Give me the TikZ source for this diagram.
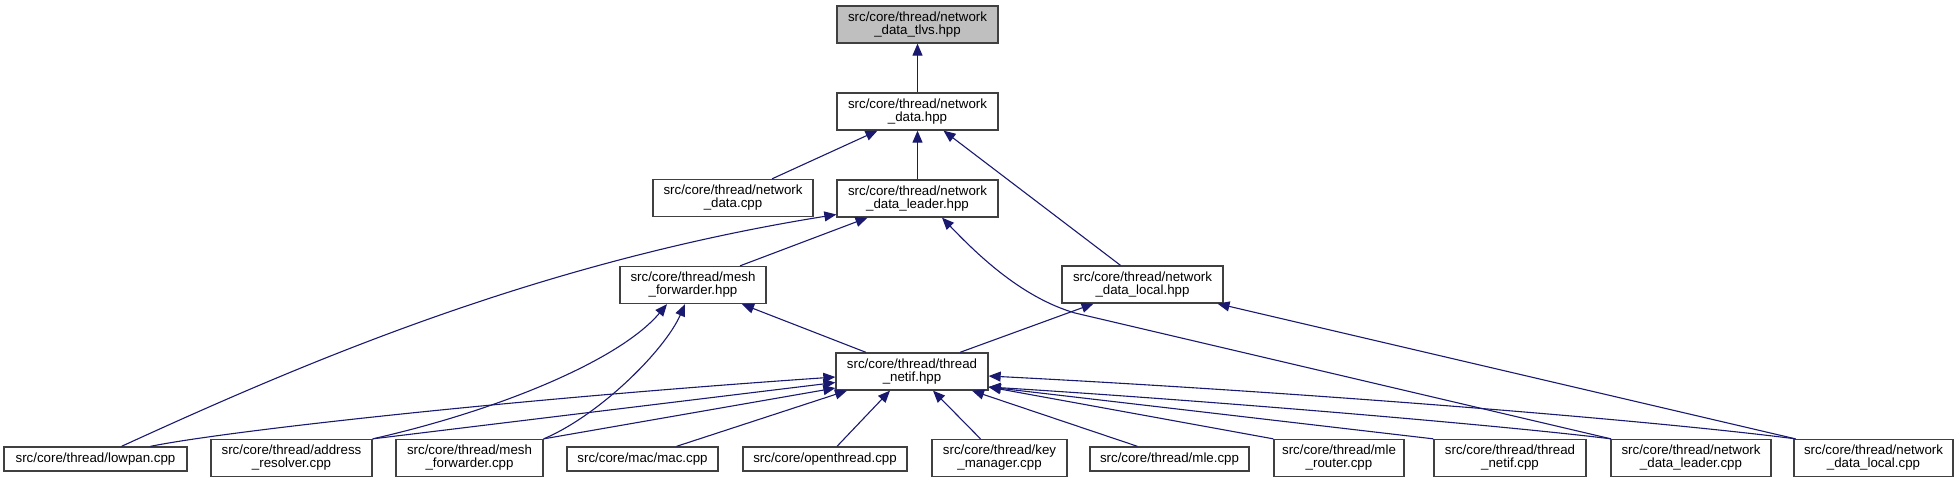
\documentclass[tikz,border=0pt]{standalone}
\usepackage{fontspec}
\setmainfont{Liberation Sans}
\usepackage{xcolor}
\usepackage{tikz}
\usetikzlibrary{arrows.meta, positioning}
\definecolor{edge_col}{RGB}{25, 25, 112}
\definecolor{box_col}{RGB}{64, 64, 64}
\definecolor{cur_col}{RGB}{191, 191, 191}
\newcommand{\nodefont}{\fontsize{13.3pt}{13pt}\selectfont}

\begin{document}
\begin{tikzpicture}[
    x=1pt, y=-1pt,
    every node/.style={font=\nodefont},
    hdr/.style={rectangle, draw=box_col, line width=1.3pt, fill=white, minimum height=37pt, inner sep=0pt, align=center},
    one/.style={hdr, minimum height=24pt},
    cur/.style={hdr, fill=cur_col},
    dep/.style={draw=edge_col, line width=1.1pt, -{Triangle[length=12pt, width=10pt]}},
]
  \useasboundingbox (0,0) rectangle (1960,483);

  \node[cur, minimum width=161pt] (tlvs)  at (917.5,24.5)  {src/core/thread/network\\\_data\_tlvs.hpp};
  \node[hdr, minimum width=161pt] (nd)    at (917.5,111.5) {src/core/thread/network\\\_data.hpp};
  \node[hdr, minimum width=160pt] (ndcpp) at (733,198)     {src/core/thread/network\\\_data.cpp};
  \node[hdr, minimum width=161pt] (ndl)   at (917.5,198.5) {src/core/thread/network\\\_data\_leader.hpp};
  \node[hdr, minimum width=146pt] (mfw)   at (693,285)     {src/core/thread/mesh\\\_forwarder.hpp};
  \node[hdr, minimum width=161pt] (ndloc) at (1142.5,284.5) {src/core/thread/network\\\_data\_local.hpp};
  \node[hdr, minimum width=152pt] (netif) at (912,371.5)   {src/core/thread/thread\\\_netif.hpp};

  \node[one, minimum width=183pt] (lowpan)   at (95.5,459)   {src/core/thread/lowpan.cpp};
  \node[hdr, minimum width=161pt] (addr)     at (291.5,458)  {src/core/thread/address\\\_resolver.cpp};
  \node[hdr, minimum width=147pt] (mfwcpp)   at (469.5,458)  {src/core/thread/mesh\\\_forwarder.cpp};
  \node[one, minimum width=151pt] (mac)      at (642.5,459)  {src/core/mac/mac.cpp};
  \node[one, minimum width=164pt] (ot)       at (825,459)    {src/core/openthread.cpp};
  \node[hdr, minimum width=135pt] (key)      at (999.5,458)  {src/core/thread/key\\\_manager.cpp};
  \node[one, minimum width=159pt] (mle)      at (1169.5,459) {src/core/thread/mle.cpp};
  \node[hdr, minimum width=130pt] (mler)     at (1339,458)   {src/core/thread/mle\\\_router.cpp};
  \node[hdr, minimum width=152pt] (netifcpp) at (1510,458)   {src/core/thread/thread\\\_netif.cpp};
  \node[hdr, minimum width=160pt] (ndlcpp)   at (1691,458)   {src/core/thread/network\\\_data\_leader.cpp};
  \node[hdr, minimum width=159pt] (ndloccpp) at (1873.5,458) {src/core/thread/network\\\_data\_local.cpp};

  \draw[dep] (nd) -- (tlvs);
  \draw[dep] ([xshift=39pt]ndcpp.north) -- ([xshift=-40pt]nd.south);
  \draw[dep] (ndl) -- (nd);
  \draw[dep] ([xshift=-22pt]ndloc.north) -- ([xshift=26pt]nd.south);

  \draw[dep] ([xshift=26pt]lowpan.north) .. controls (310,360) and (540,262) .. ([yshift=-16pt]ndl.west);
  \draw[dep] ([xshift=47pt]mfw.north) -- ([xshift=-50pt]ndl.south);
  \draw[dep] ([xshift=-80pt]ndlcpp.north) -- (1075,313) .. controls (1020,297) and (975,252) .. ([xshift=24.5pt]ndl.south);
  \draw[dep] ([xshift=-78pt]ndloccpp.north) -- ([xshift=75pt]ndloc.south);

  \draw[dep] (addr.north east) .. controls (500,410) and (620,360) .. ([xshift=-26pt]mfw.south);
  \draw[dep] (mfwcpp.north east) .. controls (600,415) and (665,350) .. ([xshift=-8pt]mfw.south);
  \draw[dep] ([xshift=-46pt]netif.north) -- ([xshift=49pt]mfw.south);
  \draw[dep] ([xshift=48pt]netif.north) -- ([xshift=-49pt]ndloc.south);

  \draw[dep] ([xshift=55pt]lowpan.north) .. controls (220,432) and (500,400) .. ([yshift=-5.5pt]netif.west);
  \draw[dep] (addr.north east) -- ([yshift=-11pt]netif.west);
  \draw[dep] (mfwcpp.north east) -- ([yshift=-16.5pt]netif.west);
  \draw[dep] ([xshift=34pt]mac.north) -- ([xshift=-65pt]netif.south);
  \draw[dep] ([xshift=12pt]ot.north) -- ([xshift=-22pt]netif.south);
  \draw[dep] ([xshift=-19pt]key.north) -- ([xshift=21pt]netif.south);
  \draw[dep] ([xshift=-32pt]mle.north) -- ([xshift=60pt]netif.south);
  \draw[dep] (mler.north west) -- ([yshift=-15.5pt]netif.east);
  \draw[dep] (netifcpp.north west) -- ([yshift=-15.5pt]netif.east);
  \draw[dep] ([xshift=-80pt]ndlcpp.north) .. controls (1500,425) and (1200,400) .. ([yshift=-15.5pt]netif.east);
  \draw[dep] ([xshift=-78pt]ndloccpp.north) .. controls (1650,420) and (1300,392) .. ([yshift=-4.5pt]netif.east);
\end{tikzpicture}
\end{document}
